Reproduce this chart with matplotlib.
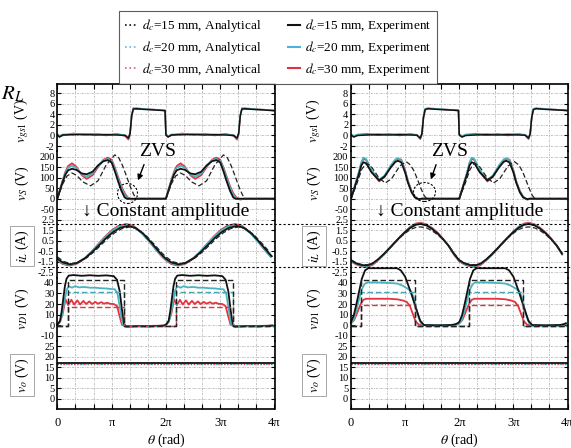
import numpy as np
import matplotlib
matplotlib.use('Agg')
import matplotlib.pyplot as plt
from matplotlib.lines import Line2D
from matplotlib.patches import Ellipse, FancyArrowPatch

plt.rcParams['font.family'] = ['Liberation Serif', 'DejaVu Serif']
plt.rcParams['mathtext.fontset'] = 'stix'

# ---------------- data (theta in units of pi, one switching period) ----------------
# tick labels
VGS_TICKS = [8, 6, 4, 2, 0, -2]
VS_TICKS = [200, 150, 100, 50, 0, -50]
IL_TICKS = [2.5, 1.5, 0.5, -0.5, -1.5, -2.5]
VD_TICKS = [40, 30, 20, 10, 0, -10]
VO_TICKS = [25, 20, 15, 10, 5, 0]
X_TICK_LABELS = ['0', 'π', '2π', '3π', '4π']

LEGEND_LABELS = [r'$d_c$=15 mm, Analytical', r'$d_c$=20 mm, Analytical', r'$d_c$=30 mm, Analytical',
                 r'$d_c$=15 mm, Experiment', r'$d_c$=20 mm, Experiment', r'$d_c$=30 mm, Experiment']

# ----- left panel -----
L_VGS_T = [0.0, 0.04, 0.1, 0.3, 0.5, 0.7, 0.9, 1.1, 1.25, 1.31, 1.34, 1.37, 1.40, 1.45, 1.6, 1.8, 1.985]
L_VGS_K = [0.1, -0.3, 0.1, 0.15, 0.2, 0.1, 0.15, 0.1, 0.0, -0.5, 0.4, 3.8, 5.0, 5.1, 4.95, 4.85, 4.7]
L_VGS_C = [0.3, -0.1, 0.2, 0.3, 0.25, 0.3, 0.2, 0.25, 0.1, -0.6, 0.6, 4.0, 5.1, 5.2, 5.05, 4.9, 4.8]
L_VGS_R = [0.2, -0.2, 0.0, 0.4, 0.1, 0.35, 0.0, 0.3, -0.1, -0.8, 0.2, 3.6, 5.2, 5.0, 5.0, 4.9, 4.75]

L_VS_T = [0, 0.05, 0.1, 0.15, 0.2, 0.27, 0.35, 0.45, 0.54, 0.65, 0.75, 0.85, 0.93, 1.0, 1.06, 1.12, 1.18, 1.24, 1.29, 1.34, 1.37, 1.45, 1.99]
L_VS_R = [0, 45, 88, 128, 155, 168, 152, 112, 94, 112, 150, 185, 195, 185, 148, 103, 60, 26, 8, 0, -4, 0, 0]
L_VS_C = [0, 42, 84, 122, 147, 157, 147, 115, 105, 120, 155, 183, 189, 180, 142, 95, 52, 18, 4, -2, -3, 0, 0]
L_VS_K = [0, 40, 80, 115, 135, 142, 137, 120, 116, 128, 158, 178, 183, 172, 130, 82, 38, 6, -1, 0, 0, 0, 0]
L_VSA_T = [0, 0.1, 0.18, 0.27, 0.36, 0.47, 0.61, 0.75, 0.9, 1.06, 1.13, 1.2, 1.27, 1.34, 1.41, 1.46, 1.99]
L_VSA_K = [0, 70, 108, 122, 110, 80, 61, 85, 160, 208, 195, 158, 110, 60, 18, 0, 0]

L_IL_T = [0, 0.1, 0.22, 0.35, 0.5, 0.62, 0.75, 0.88, 1.0, 1.12, 1.27, 1.4, 1.55, 1.7, 1.85, 1.93]
L_IL_R = [-1.35, -1.70, -1.85, -1.70, -1.20, -0.60, 0.16, 0.90, 1.49, 1.90, 2.10, 1.92, 1.31, 0.42, -0.55, -1.01]
L_IL_C = [-1.30, -1.64, -1.78, -1.64, -1.15, -0.58, 0.14, 0.85, 1.41, 1.81, 2.00, 1.83, 1.24, 0.39, -0.53, -0.98]
L_ILK_T = [0, 0.1, 0.23, 0.36, 0.52, 0.65, 0.78, 0.91, 1.03, 1.16, 1.31, 1.44, 1.59, 1.74, 1.89, 1.95]
L_IL_K = [-1.20, -1.55, -1.73, -1.60, -1.12, -0.53, 0.14, 0.81, 1.34, 1.74, 1.91, 1.73, 1.14, 0.28, -0.63, -0.96]
L_ILA_T = [0, 0.12, 0.26, 0.39, 0.55, 0.68, 0.81, 0.94, 1.06, 1.19, 1.34, 1.47, 1.62, 1.77, 1.92]
L_ILA_K = [-1.02, -1.47, -1.67, -1.55, -1.08, -0.52, 0.13, 0.77, 1.27, 1.66, 1.82, 1.65, 1.08, 0.25, -0.62]

L_VDK_T = [0, 0.05, 0.08, 0.11, 0.14, 0.17, 0.21, 0.3, 0.45, 0.6, 0.75, 0.9, 1.04, 1.1, 1.15, 1.19, 1.23, 1.27, 1.5, 1.7, 1.96]
L_VD_K = [0.3, 4, 13, 25, 37, 44, 47, 47.5, 46.8, 47.3, 46.8, 47.2, 46.5, 43, 32, 15, 1, -1.5, -1, -1.2, -0.5]
L_VDC_T = [0, 0.05, 0.09, 0.13, 0.17, 0.21, 0.27, 0.33, 0.4, 0.5, 0.6, 0.7, 0.8, 0.9, 1.0, 1.06, 1.11, 1.16, 1.2, 1.25, 1.5, 1.7, 1.96]
L_VD_C = [0.3, 3, 10, 22, 33, 37, 35.5, 37, 35.8, 36.2, 35.5, 35.5, 35, 34.8, 34.2, 34, 30, 14, 1, -1.2, -1, -1.3, -0.5]
L_VDR_T = [0, 0.05, 0.1, 0.15, 0.2, 0.26, 0.31, 0.37, 0.42, 0.48, 0.53, 0.59, 0.64, 0.7, 0.75, 0.81, 0.86, 0.92, 0.97, 1.04, 1.1, 1.15, 1.19, 1.25, 1.5, 1.96]
L_VD_R = [0.2, 3, 11, 24.5, 19, 24, 19.5, 23.5, 19.5, 23, 20, 22.5, 20, 22, 20.3, 21.8, 20.3, 21.3, 20.2, 20, 18, 8, 0.5, -1, -1, -0.5]
L_VDA_T = [0, 0.19, 0.19, 1.235, 1.235, 1.99]
L_VDA_K = [-0.5, -0.5, 42.5, 42.5, -0.5, -0.5]
L_VDA_C = [-0.5, -0.5, 31, 31, -0.5, -0.5]
L_VDA_R = [-0.5, -0.5, 17, 17, -0.5, -0.5]

VO_T = [0, 4]
VO_K = [17.1, 17.1]
VO_C = [16.4, 16.4]
VO_R = [16.7, 16.7]

# ----- right panel -----
R_VGS_T = [0.0, 0.05, 0.12, 0.3, 0.5, 0.7, 0.9, 1.1, 1.22, 1.28, 1.31, 1.34, 1.37, 1.42, 1.6, 1.8, 1.985]
R_VGS_K = [0.1, -0.3, 0.0, 0.1, 0.15, 0.1, 0.15, 0.1, 0.05, -0.5, 0.3, 3.5, 4.9, 5.1, 4.95, 4.85, 4.75]
R_VGS_C = [0.3, -0.1, 0.2, 0.25, 0.3, 0.2, 0.3, 0.25, 0.15, -0.6, 0.5, 3.8, 5.1, 5.2, 5.05, 4.9, 4.8]
R_VGS_R = [0.2, -0.2, 0.1, 0.35, 0.05, 0.3, 0.0, 0.3, 0.0, -0.7, 0.2, 3.4, 5.0, 5.1, 5.0, 4.9, 4.7]

R_VS_T = [0, 0.05, 0.1, 0.15, 0.19, 0.23, 0.28, 0.38, 0.52, 0.62, 0.74, 0.82, 0.87, 0.93, 1.0, 1.05, 1.12, 1.18, 1.23, 1.26, 1.3, 1.99]
R_VS_C = [0, 43, 86, 130, 172, 195, 188, 135, 90, 110, 160, 186, 192, 182, 130, 82, 35, 10, 0, -5, 0, 0]
R_VS_R = [0, 42, 84, 128, 168, 189, 184, 130, 82, 104, 158, 183, 190, 185, 135, 85, 36, 10, 0, -4, 0, 0]
R_VS_K = [0, 40, 80, 120, 158, 173, 168, 125, 87, 105, 150, 175, 180, 172, 125, 78, 30, 6, 0, -2, 0, 0]
R_VSA_T = [0, 0.1, 0.2, 0.28, 0.36, 0.5, 0.63, 0.75, 0.9, 1.02, 1.1, 1.17, 1.23, 1.29, 1.35, 1.4, 1.99]
R_VSA_K = [0, 65, 140, 168, 158, 105, 74, 95, 155, 176, 160, 129, 90, 50, 15, 0, 0]

R_IL_T = [0, 0.1, 0.2, 0.3, 0.4, 0.5, 0.6, 0.7, 0.8, 0.9, 1.0, 1.1, 1.2, 1.29, 1.4, 1.5, 1.6, 1.7, 1.8, 1.9]
R_IL_R = [-1.45, -1.75, -1.93, -1.98, -1.78, -1.35, -0.85, -0.30, 0.28, 0.85, 1.38, 1.85, 2.15, 2.22, 2.05, 1.72, 1.27, 0.70, 0.05, -0.80]
R_IL_C = [-1.40, -1.70, -1.87, -1.90, -1.71, -1.30, -0.81, -0.27, 0.29, 0.84, 1.35, 1.80, 2.09, 2.16, 2.00, 1.67, 1.23, 0.68, 0.05, -0.75]
R_IL_K = [-1.35, -1.65, -1.80, -1.83, -1.65, -1.25, -0.78, -0.25, 0.30, 0.83, 1.33, 1.75, 2.03, 2.10, 1.95, 1.63, 1.20, 0.66, 0.05, -0.72]
R_ILA_K = [-1.30, -1.60, -1.75, -1.77, -1.62, -1.28, -0.82, -0.30, 0.25, 0.78, 1.22, 1.58, 1.78, 1.82, 1.72, 1.45, 1.08, 0.62, 0.08, -0.65]

R_VDK_T = [0, 0.05, 0.1, 0.15, 0.2, 0.26, 0.32, 0.5, 0.7, 0.85, 0.92, 1.0, 1.1, 1.2, 1.28, 1.35, 1.6, 1.85, 1.93, 1.97]
R_VD_K = [3, 9, 20, 32, 44, 52, 54, 54, 54, 54, 52, 46, 32, 16, 4, 0, -0.3, 0, 0.8, 1.8]
R_VDC_T = [0, 0.05, 0.1, 0.15, 0.2, 0.25, 0.3, 0.5, 0.7, 0.85, 0.95, 1.05, 1.11, 1.16, 1.2, 1.25, 1.3, 1.35, 1.6, 1.9, 1.97]
R_VD_C = [1.5, 5, 14, 25, 34, 39, 40.5, 40.5, 40, 39.5, 37.5, 34.5, 32, 26, 17, 7, 1, 0, -0.3, 0.3, 1]
R_VDR_T = [0, 0.06, 0.12, 0.18, 0.23, 0.28, 0.5, 0.7, 0.85, 0.95, 1.03, 1.09, 1.14, 1.19, 1.25, 1.3, 1.6, 1.9, 1.97]
R_VD_R = [1.5, 5, 12.5, 20, 24, 25, 25, 25, 24.5, 23.5, 22, 18, 11, 4, 0.5, 0, -0.3, 0.2, 0.8]
R_VDA_T = [0, 0.18, 0.18, 1.18, 1.18, 1.99]
R_VDA_K = [-0.5, -0.5, 42.5, 42.5, -0.5, -0.5]
R_VDA_C = [-0.5, -0.5, 31.4, 31.4, -0.5, -0.5]
R_VDA_R = [-0.5, -0.5, 18.8, 18.8, -0.5, -0.5]

# ---------------- styling ----------------
C_K = '#111111'
C_C = '#48b4c0'
C_R = '#e6323e'
C_KA = '#222222'
C_CA = '#4aa5b0'
C_RA = '#dd3344'

W, H = 571, 448
fig = plt.figure(figsize=(W / 100, H / 100), dpi=100)


def fx(x):
    return x / W


def fy(y):
    return 1 - y / H


def two(t, v):
    t = np.asarray(t, float)
    v = np.asarray(v, float)
    return np.concatenate([t, t + 2]) * np.pi, np.concatenate([v, v])


BOUNDS = [84, 151.3, 214.5, 277.7, 340.9, 409]
PANEL_X = [(57.3, 274.5), (351.0, 567.5)]
YLIMS = [(-3.0, 9.77), (-75, 225), (-3, 3), (-15, 45), (-4.85, 27.5)]
YTICKS = [VGS_TICKS, VS_TICKS, IL_TICKS, VD_TICKS, VO_TICKS]
YLABELS = [r'$v_{gs1}$ (V)', r'$v_S$ (V)', r'$i_L$ (A)', r'$v_{D1}$ (V)', r'$v_o$ (V)']
LABEL_X = [22, 314]
LABEL_Y = [121, 183, 246, 309, 375]

panel_data = [
    dict(vgs=(L_VGS_T, [L_VGS_R, L_VGS_C, L_VGS_K]),
         vs=[(L_VS_T, L_VS_R, C_R), (L_VS_T, L_VS_C, C_C), (L_VS_T, L_VS_K, C_K)],
         vsa=[(L_VSA_T, L_VSA_K, C_KA)],
         il=[(L_IL_T, L_IL_R, C_R), (L_IL_T, L_IL_C, C_C), (L_ILK_T, L_IL_K, C_K)],
         ila=[(L_ILA_T, L_ILA_K, C_KA)],
         vd=[(L_VDR_T, L_VD_R, C_R), (L_VDC_T, L_VD_C, C_C), (L_VDK_T, L_VD_K, C_K)],
         vda=[(L_VDA_T, L_VDA_R, C_RA), (L_VDA_T, L_VDA_C, C_CA), (L_VDA_T, L_VDA_K, C_KA)]),
    dict(vgs=(R_VGS_T, [R_VGS_R, R_VGS_C, R_VGS_K]),
         vs=[(R_VS_T, R_VS_R, C_R), (R_VS_T, R_VS_C, C_C), (R_VS_T, R_VS_K, C_K)],
         vsa=[(R_VSA_T, R_VSA_K, C_KA)],
         il=[(R_IL_T, R_IL_R, C_R), (R_IL_T, R_IL_C, C_C), (R_IL_T, R_IL_K, C_K)],
         ila=[(R_IL_T, R_ILA_K, C_KA)],
         vd=[(R_VDR_T, R_VD_R, C_R), (R_VDC_T, R_VD_C, C_C), (R_VDK_T, R_VD_K, C_K)],
         vda=[(R_VDA_T, R_VDA_R, C_RA), (R_VDA_T, R_VDA_C, C_CA), (R_VDA_T, R_VDA_K, C_KA)]),
]

DASH = (0, (4, 2))
for p, (x0, x1) in enumerate(PANEL_X):
    d = panel_data[p]
    axes = []
    for i in range(5):
        ax = fig.add_axes([fx(x0), fy(BOUNDS[i + 1]), (x1 - x0) / W, (BOUNDS[i + 1] - BOUNDS[i]) / H])
        ax.set_xlim(0, 4 * np.pi)
        ax.set_ylim(*YLIMS[i])
        ax.set_yticks(YTICKS[i])
        ax.set_yticklabels([str(v) for v in YTICKS[i]])
        ax.set_xticks(np.arange(13) * np.pi / 3)
        if i == 4:
            ax.set_xticklabels([X_TICK_LABELS[k // 3] if k % 3 == 0 else '' for k in range(13)])
        else:
            ax.set_xticklabels([])
        ax.grid(True, color='#a8a8a8', ls=(0, (3, 1.5, 1, 1.5)), lw=0.5)
        ax.set_axisbelow(True)
        for s in ('left', 'right'):
            ax.spines[s].set_linewidth(1.2)
        ax.spines['top'].set_visible(i == 0)
        ax.spines['bottom'].set_visible(i == 4)
        ax.spines['top'].set_linewidth(1.2)
        ax.spines['bottom'].set_linewidth(1.2)
        ax.tick_params(axis='y', direction='in', left=True, right=True, length=3, width=0.8,
                       labelsize=7.5, pad=2)
        ax.tick_params(axis='x', direction='in', top=(i == 0), bottom=(i == 4), length=3.5,
                       width=0.8, labelsize=9, pad=6)
        ax.patch.set_alpha(0)
        axes.append(ax)
        fig.text(fx(LABEL_X[p]), fy(LABEL_Y[i]), YLABELS[i], rotation=90,
                 ha='center', va='center', fontsize=10,
                 bbox=(dict(boxstyle='square,pad=0.25', fc='white', ec='#999999', lw=0.6)
                       if i in (2, 4) else None))

    # vgs1
    t, vals = d['vgs']
    for v, c in zip(vals, [C_R, C_C, C_K]):
        tt, vv = two(t, v)
        axes[0].plot(tt, vv, color=c, lw=1.1)
    # vS
    for t, v, c in d['vs']:
        tt, vv = two(t, v)
        axes[1].plot(tt, vv, color=c, lw=1.3)
    for t, v, c in d['vsa']:
        tt, vv = two(t, v)
        axes[1].plot(tt, vv, color=c, lw=0.9, ls=DASH)
    # iL
    for t, v, c in d['il']:
        tt, vv = two(t, v)
        axes[2].plot(tt, vv, color=c, lw=1.3)
    for t, v, c in d['ila']:
        tt, vv = two(t, v)
        axes[2].plot(tt, vv, color=c, lw=0.9, ls=DASH)
    # vD1
    for t, v, c in d['vd']:
        tt, vv = two(t, v)
        axes[3].plot(tt, vv, color=c, lw=1.3, clip_on=False)
    for t, v, c in d['vda']:
        tt, vv = two(t, v)
        axes[3].plot(tt, vv, color=c, lw=1.0, ls=DASH)
    # vo
    tv = np.asarray(VO_T, float) * np.pi
    axes[4].plot(tv, VO_C, color=C_C, lw=1.0, ls=(0, (1, 1)))
    axes[4].plot(tv, VO_R, color=C_R, lw=0.8, ls=(0, (1, 2)))
    axes[4].plot(tv, VO_K, color=C_K, lw=1.3)

    fig.text(fx((x0 + x1) / 2), fy(440), r'$\theta$ (rad)', ha='center', va='center', fontsize=10)

# horizontal guide lines (constant amplitude)
for yy in (223.7, 267.0):
    fig.add_artist(Line2D([fx(43), fx(571)], [fy(yy), fy(yy)], transform=fig.transFigure,
                          color='k', lw=0.8, ls=(0, (2, 2))))

# annotations
for xs, xa0, ya0, xa1, ya1, ex, ey, ew, eh in [(139, 145, 162, 137, 183, 127.5, 193.5, 20, 20),
                                                  (431, 437, 162, 430, 182, 424.5, 192, 22, 19)]:
    fig.text(fx(xs), fy(152), 'ZVS', fontsize=14, va='center', ha='left')
    fig.add_artist(FancyArrowPatch(posA=(fx(xa0), fy(ya0)), posB=(fx(xa1), fy(ya1)),
                                   transform=fig.transFigure, arrowstyle='-|>', mutation_scale=8,
                                   lw=1.0, color='k'))
    fig.add_artist(Ellipse((fx(ex), fy(ey)), width=ew / W, height=eh / H, transform=fig.transFigure,
                           fill=False, ls=(0, (2, 1.5)), lw=0.8, ec='k'))

fig.text(fx(82), fy(211), '↓ Constant amplitude', fontsize=14, va='center', ha='left')
fig.text(fx(376), fy(211), '↓ Constant amplitude', fontsize=14, va='center', ha='left')
fig.text(fx(1), fy(99), r'$R_L$', fontsize=15, va='baseline', ha='left')

# legend
handles = [Line2D([], [], color=C_K, ls=':', lw=1.2),
           Line2D([], [], color='#6ab7e0', ls=':', lw=1.2),
           Line2D([], [], color='#e06070', ls=':', lw=1.2),
           Line2D([], [], color=C_K, lw=1.5),
           Line2D([], [], color='#4db0e0', lw=1.5),
           Line2D([], [], color=C_R, lw=1.5)]
leg = fig.legend(handles, LEGEND_LABELS, loc='upper left', bbox_to_anchor=(fx(119), fy(11.5)),
                 ncol=2, frameon=True, fancybox=False, edgecolor='#333333', fontsize=9.5,
                 handlelength=0.9, handletextpad=0.4, columnspacing=2.0, labelspacing=0.36,
                 borderpad=0.45, borderaxespad=0)
leg.get_frame().set_linewidth(0.8)

fig.savefig('out.png', dpi=100)
